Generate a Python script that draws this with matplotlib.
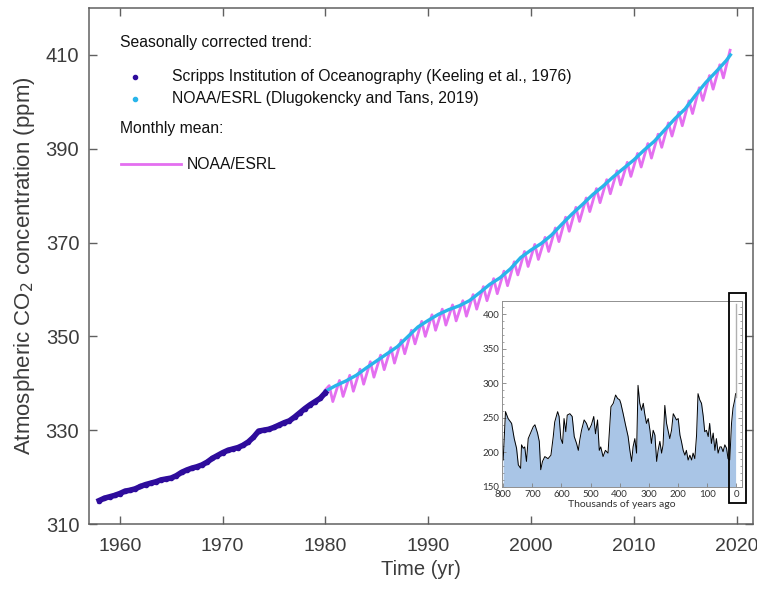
import matplotlib.pyplot as plt
from matplotlib.lines import Line2D
from matplotlib.patches import Rectangle

plt.rcParams['font.family'] = ['Liberation Sans', 'DejaVu Sans']

# Scripps seasonally corrected trend (half-year steps)
scripps_year = [1958.0, 1958.5, 1959.0, 1959.5, 1960.0, 1960.5, 1961.0, 1961.5, 1962.0, 1962.5,
                1963.0, 1963.5, 1964.0, 1964.5, 1965.0, 1965.5, 1966.0, 1966.5, 1967.0, 1967.5,
                1968.0, 1968.5, 1969.0, 1969.5, 1970.0, 1970.5, 1971.0, 1971.5, 1972.0, 1972.5,
                1973.0, 1973.5, 1974.0, 1974.5, 1975.0, 1975.5, 1976.0, 1976.5, 1977.0, 1977.5,
                1978.0, 1978.5, 1979.0, 1979.5, 1980.0]
scripps_co2 = [315.0, 315.5, 315.8, 316.1, 316.5, 317.0, 317.2, 317.5, 318.0, 318.4,
               318.7, 319.0, 319.4, 319.6, 319.8, 320.3, 321.0, 321.5, 321.9, 322.2,
               322.6, 323.2, 324.0, 324.6, 325.2, 325.7, 326.0, 326.3, 326.8, 327.5,
               328.5, 329.8, 330.0, 330.2, 330.6, 331.1, 331.6, 332.0, 332.8, 333.7,
               334.6, 335.4, 336.1, 336.8, 338.0]

# NOAA/ESRL seasonally corrected trend (start of each year)
noaa_year = [1980, 1981, 1982, 1983, 1984, 1985, 1986, 1987, 1988, 1989,
             1990, 1991, 1992, 1993, 1994, 1995, 1996, 1997, 1998, 1999,
             2000, 2001, 2002, 2003, 2004, 2005, 2006, 2007, 2008, 2009,
             2010, 2011, 2012, 2013, 2014, 2015, 2016, 2017, 2018, 2019, 2019.4]
noaa_trend = [338.3, 339.5, 340.5, 341.7, 343.3, 344.8, 346.3, 347.8, 349.9, 352.0,
              353.4, 354.7, 355.7, 356.5, 357.6, 359.3, 361.1, 362.5, 364.4, 366.8,
              368.4, 369.8, 371.6, 373.9, 376.1, 378.1, 380.2, 382.0, 384.0, 385.8,
              387.6, 389.7, 391.6, 394.0, 396.4, 398.5, 401.4, 404.1, 406.4, 408.8, 410.0]

# NOAA/ESRL monthly mean: yearly spring maximum and autumn minimum
month_year = list(range(1980, 2020))
month_peak = [339.5, 340.6, 341.7, 343.0, 344.6, 346.0, 347.6, 349.2, 351.3, 353.2,
              354.6, 355.8, 356.7, 357.6, 358.9, 360.6, 362.3, 363.9, 365.9, 368.1,
              369.6, 371.1, 373.1, 375.4, 377.5, 379.5, 381.5, 383.4, 385.3, 387.1,
              389.0, 391.1, 393.1, 395.5, 397.8, 400.2, 403.0, 405.6, 407.9, 411.0]
month_trough = [336.1, 337.2, 338.3, 339.8, 341.3, 342.9, 344.3, 346.3, 348.4, 350.0,
                351.3, 352.4, 353.3, 354.3, 355.8, 357.6, 359.1, 360.8, 363.1, 364.9,
                366.4, 368.1, 370.2, 372.4, 374.5, 376.6, 378.5, 380.4, 382.3, 384.1,
                386.1, 388.0, 390.3, 392.7, 394.9, 397.5, 400.3, 402.7, 405.1]

# ice core record, thousands of years ago
ice_kyr = [800, 792, 783, 771, 762, 754, 748, 740, 737, 731,
           726, 720, 714, 706, 697, 691, 682, 676, 671, 665,
           657, 646, 636, 628, 623, 613, 608, 602, 596, 591,
           585, 580, 571, 563, 556, 548, 542, 537, 531, 522,
           514, 506, 497, 489, 483, 476, 470, 465, 457, 449,
           440, 430, 422, 414, 407, 400, 396, 388, 380, 371,
           365, 359, 354, 348, 342, 337, 331, 325, 319, 314,
           308, 302, 296, 291, 285, 279, 273, 268, 262, 256,
           251, 245, 239, 233, 228, 222, 216, 211, 205, 199,
           193, 188, 182, 176, 171, 165, 159, 153, 148, 142,
           136, 131, 125, 119, 113, 108, 102, 96, 91, 85,
           79, 73, 68, 62, 56, 51, 45, 39, 33, 28,
           22, 16, 11, 5, 2]
ice_co2 = [189, 259, 249, 242, 220, 206, 182, 177, 211, 206,
           208, 187, 220, 228, 237, 240, 228, 216, 175, 187,
           194, 191, 196, 223, 244, 259, 252, 220, 213, 249,
           230, 254, 256, 252, 223, 213, 203, 218, 232, 247,
           242, 232, 240, 252, 227, 247, 203, 208, 194, 203,
           199, 266, 271, 283, 278, 276, 271, 256, 240, 223,
           203, 187, 208, 220, 199, 297, 271, 261, 271, 256,
           242, 249, 232, 213, 232, 225, 187, 203, 216, 199,
           211, 268, 242, 230, 220, 232, 256, 252, 247, 249,
           225, 216, 203, 196, 203, 189, 196, 189, 199, 191,
           225, 285, 276, 271, 252, 230, 232, 223, 242, 213,
           228, 203, 220, 199, 208, 208, 201, 211, 206, 191,
           189, 242, 264, 276, 285]

navy = '#2e0c9c'
cyan = '#29b5ea'
pink = '#e46ff0'
grey = '#3c3c3c'

fig = plt.figure(figsize=(7.57, 5.9), dpi=100)
ax = fig.add_axes([89/757, 66/590, 664/757, 516/590])

# monthly mean: sawtooth through spring max / autumn min
mx = [1980.0]
my = [338.6]
for i in range(len(month_year)):
    mx.append(month_year[i] + 0.37)
    my.append(month_peak[i])
    if i < len(month_trough):
        mx.append(month_year[i] + 0.72)
        my.append(month_trough[i])

ax.plot(mx, my, color=pink, lw=2, zorder=2)
ax.plot(noaa_year, noaa_trend, color=cyan, lw=2.4, zorder=3)
ax.plot(scripps_year, scripps_co2, color=navy, lw=4, marker='o', ms=3, zorder=3)

ax.set_xlim(1957, 2021.6)
ax.set_ylim(310, 420)
ax.set_xticks([1960, 1970, 1980, 1990, 2000, 2010, 2020])
ax.set_yticks([310, 330, 350, 370, 390, 410])
ax.tick_params(direction='in', length=6, width=1, top=True, right=True,
               labelsize=14.5, colors='#606060', labelcolor=grey)
ax.tick_params(axis='x', pad=10, labelsize=14)
ax.tick_params(axis='y', pad=7)
for s in ax.spines.values():
    s.set_color('#606060')
    s.set_linewidth(1.1)
ax.set_xlabel('Time (yr)', fontsize=14.5, color=grey, labelpad=4)
ax.set_ylabel('Atmospheric CO$_2$ concentration (ppm)', fontsize=16, color=grey, labelpad=6)

# legend drawn by hand
fs = 11.3
fig.text(120/757, 1 - 43/590, 'Seasonally corrected trend:', fontsize=fs, va='center', color='#111111')
fig.add_artist(Line2D([135/757], [1 - 77/590], marker='o', ms=3, color=navy, lw=0))
fig.text(172/757, 1 - 77/590, 'Scripps Institution of Oceanography (Keeling et al., 1976)',
         fontsize=fs, va='center', color='#111111')
fig.add_artist(Line2D([135/757], [1 - 99/590], marker='o', ms=3, color=cyan, lw=0))
fig.text(172/757, 1 - 99/590, 'NOAA/ESRL (Dlugokencky and Tans, 2019)',
         fontsize=fs, va='center', color='#111111')
fig.text(120/757, 1 - 128/590, 'Monthly mean:', fontsize=fs, va='center', color='#111111')
fig.add_artist(Line2D([121/757, 181/757], [1 - 164/590, 1 - 164/590], color=pink, lw=2))
fig.text(187/757, 1 - 164/590, 'NOAA/ESRL', fontsize=fs, va='center', color='#111111')

# inset: ice core record
ax2 = fig.add_axes([502/757, 103/590, 240/757, 186/590])
ax2.fill_between(ice_kyr, 150, ice_co2, color='#a9c5e6', lw=0)
ax2.plot(ice_kyr, ice_co2, color='black', lw=0.7)
ax2.plot([0, 0], [280, 415], color='#b0b0b0', lw=1)
ax2.set_xlim(804, -20)
ax2.set_ylim(150, 419)
ax2.set_xticks([800, 700, 600, 500, 400, 300, 200, 100, 0])
ax2.set_yticks([150, 200, 250, 300, 350, 400])
ax2.set_yticks(range(150, 420, 10), minor=True)
ax2.tick_params(which='both', direction='in', right=True, labelsize=7,
                colors='#808080', labelcolor='#333333', pad=2)
ax2.tick_params(which='major', length=3, width=0.6)
ax2.tick_params(which='minor', length=1.5, width=0.5)
for lbl in ax2.get_xticklabels() + ax2.get_yticklabels():
    lbl.set_family(['Lato', 'DejaVu Sans'])
ax2.set_xlabel('Thousands of years ago', fontsize=7.5, color='#333333', labelpad=1,
               family=['Lato', 'DejaVu Sans'])
for s in ax2.spines.values():
    s.set_color('#909090')
    s.set_linewidth(0.7)

# box marking the present day
fig.add_artist(Rectangle((729/757, 1 - 503/590), 17/757, 210/590, fill=False,
                         edgecolor='black', lw=1.3))

fig.savefig('out.png', dpi=100)
